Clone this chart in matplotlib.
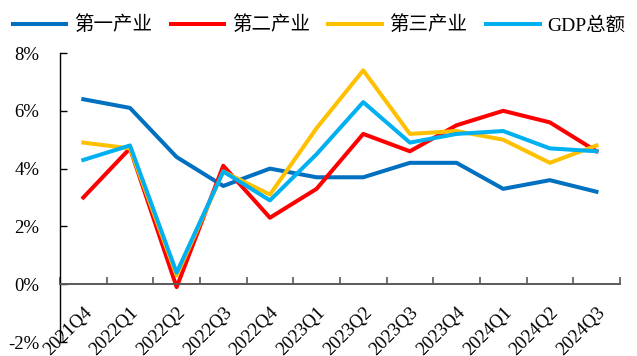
import numpy as np
import matplotlib
matplotlib.use("Agg")
import matplotlib.pyplot as plt
from matplotlib.ticker import FixedLocator, FuncFormatter

plt.rcParams["font.family"] = ["Liberation Serif", "Noto Sans CJK SC", "DejaVu Sans"]
plt.rcParams["axes.unicode_minus"] = False

quarters = ["2021Q4", "2022Q1", "2022Q2", "2022Q3", "2022Q4", "2023Q1",
            "2023Q2", "2023Q3", "2023Q4", "2024Q1", "2024Q2", "2024Q3"]
primary = [6.4, 6.1, 4.4, 3.4, 4.0, 3.7, 3.7, 4.2, 4.2, 3.3, 3.6, 3.2]
secondary = [3.0, 4.7, -0.1, 4.1, 2.3, 3.3, 5.2, 4.6, 5.5, 6.0, 5.6, 4.6]
tertiary = [4.9, 4.7, 0.3, 3.9, 3.1, 5.4, 7.4, 5.2, 5.3, 5.0, 4.2, 4.8]
gdp = [4.3, 4.8, 0.4, 3.9, 2.9, 4.5, 6.3, 4.9, 5.2, 5.3, 4.7, 4.6]

series = [("第一产业", primary, "#0070C0"),
          ("第二产业", secondary, "#FF0000"),
          ("第三产业", tertiary, "#FFC000"),
          ("GDP总额", gdp, "#00B0F0")]

fig = plt.figure(figsize=(6.37, 3.56), dpi=100)
ax = fig.add_axes([0.0942, 0.0393, 0.8788, 0.8118])

x = np.arange(len(quarters))
for name, vals, col in series:
    ax.plot(x, vals, color=col, lw=2.9, label=name)

ax.set_xlim(-0.5, len(quarters) - 0.5)
ax.set_ylim(-2, 8)

# 横轴放在 0 处，刻度在季度之间，标签在季度中点
for s in ["top", "right"]:
    ax.spines[s].set_visible(False)
ax.spines["bottom"].set_position(("data", 0))
ax.spines["bottom"].set_color("#595959")
ax.spines["bottom"].set_linewidth(1.4)
ax.spines["left"].set_color("black")
ax.spines["left"].set_linewidth(1.0)

ax.xaxis.set_major_locator(FixedLocator(np.arange(len(quarters) + 1) - 0.5))
ax.xaxis.set_minor_locator(FixedLocator(x))
ax.set_xticklabels([], minor=False)
ax.set_xticklabels(quarters, minor=True, rotation=45, ha="right", va="top",
                   rotation_mode="anchor", fontsize=13.5)
ax.tick_params(axis="x", which="major", direction="in", length=5,
               color="#595959", width=1.2)
ax.tick_params(axis="x", which="minor", length=0, pad=14)

ax.set_yticks(np.arange(-2, 9, 2))
ax.yaxis.set_major_formatter(FuncFormatter(lambda v, _: f"{v:.0f}%"))
ax.tick_params(axis="y", direction="in", length=5, width=1.0, pad=15,
               labelsize=13.5)

fig.legend(loc="center left", bbox_to_anchor=(0.008, 0.93), ncol=4, frameon=False,
           fontsize=14, handlelength=2.75, handletextpad=0.4, columnspacing=0.95,
           borderaxespad=0.0)

fig.savefig("out.png", dpi=100)
